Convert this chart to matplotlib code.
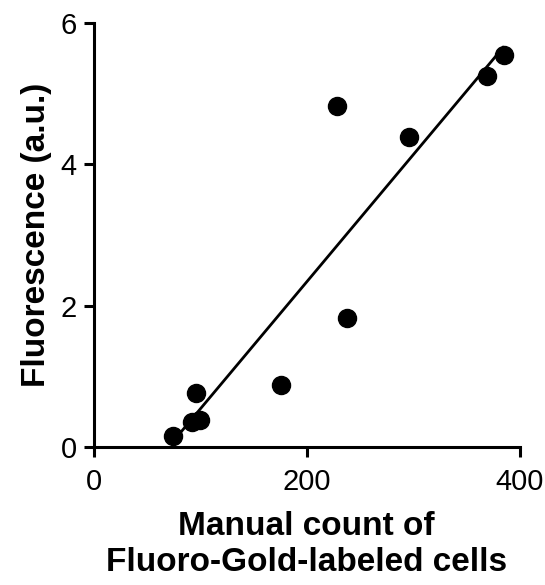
import numpy as np
import matplotlib
matplotlib.use("Agg")
import matplotlib.pyplot as plt

plt.rcParams['font.family'] = ['Liberation Sans', 'DejaVu Sans']

manual_count = [75, 92, 100, 96, 176, 238, 228, 296, 369, 385]
fluorescence = [0.15, 0.36, 0.38, 0.77, 0.88, 1.82, 4.82, 4.38, 5.25, 5.55]
x_ticks = [0, 200, 400]
y_ticks = [0, 2, 4, 6]

fig = plt.figure(figsize=(5.45, 5.85), dpi=100)
ax = fig.add_axes([0.1716, 0.2359, 0.7826, 0.725])

x = np.array(manual_count)
y = np.array(fluorescence)
slope, intercept = np.polyfit(x, y, 1)
xl = np.array([x.min(), x.max()])
ax.plot(xl, slope * xl + intercept, color='black', lw=2.0, solid_capstyle='butt')
ax.plot(x, y, 'o', color='black', markersize=13, zorder=3)

ax.set_xlim(0, 400)
ax.set_ylim(0, 6)
ax.set_xticks(x_ticks)
ax.set_yticks(y_ticks)
for s in ['top', 'right']:
    ax.spines[s].set_visible(False)
for s in ['left', 'bottom']:
    ax.spines[s].set_linewidth(2.2)
ax.tick_params(direction='out', length=7, width=2.2, labelsize=21)
ax.tick_params(axis='x', pad=8)
ax.tick_params(axis='y', pad=5)
ax.set_xlabel('Manual count of\nFluoro-Gold-labeled cells', fontsize=24,
              fontweight='bold', labelpad=11, linespacing=1.22)
ax.set_ylabel('Fluorescence (a.u.)', fontsize=24, fontweight='bold', labelpad=6)
for sp in ax.spines.values():
    sp.set_clip_on(False)

fig.savefig('out.png', dpi=100)
